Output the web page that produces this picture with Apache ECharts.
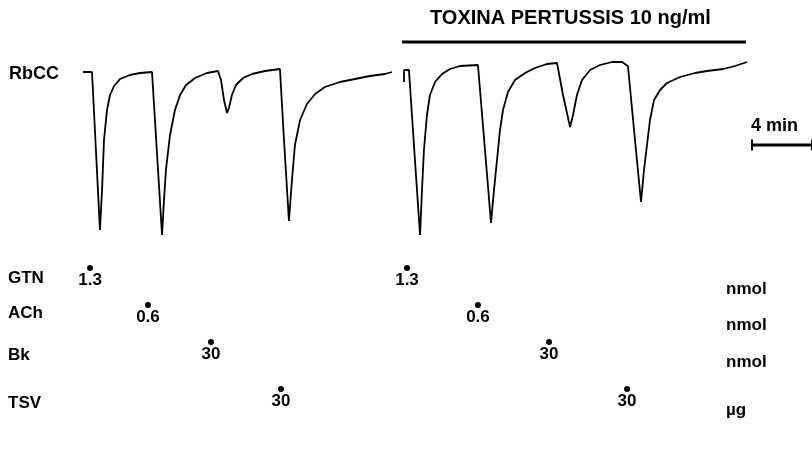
<!DOCTYPE html>
<html>
<head>
<meta charset="utf-8">
<script src="https://cdn.jsdelivr.net/npm/echarts@6/dist/echarts.min.js"></script>
<style>
  html, body { margin: 0; background: #fff; }
  #main { width: 812px; height: 450px; }
</style>
</head>
<body>
<div id="main"></div>
<script>
// RbCC tension trace, time in min from start, tension in arbitrary units (0 = resting tone, negative = relaxation)
var controlTime = [0, 0.6, 1.13, 1.27, 1.4, 1.6, 1.8, 2.07, 2.47, 3.13, 3.8, 4.6, 5.27, 5.4, 5.53, 5.8, 6.13, 6.47, 6.87, 7.47, 8.27, 9.0,
  9.2, 9.4, 9.6, 9.73, 9.93, 10.2, 10.67, 11.27, 12.13, 13.13, 13.4, 13.73, 13.93, 14.13, 14.47, 14.93, 15.47, 16.13, 17.13, 18.13, 19.13, 20.13, 20.6];
var controlTension = [-2, -2, -160, -120, -70, -40, -25, -16, -9, -5, -3, -2, -165, -130, -100, -65, -40, -25, -15, -8, -3, -1,
  -10, -30, -43, -38, -25, -15, -8, -4, -1, 1, -70, -151, -110, -75, -50, -34, -24, -17, -12, -9, -6, -4, -2];

var toxinTime = [21.4, 21.4, 21.73, 22.13, 22.47, 22.6, 22.73, 22.93, 23.13, 23.47, 23.93, 24.47, 25.13, 26.33, 26.8, 27.2, 27.4, 27.6, 27.8, 28.0,
  28.33, 28.8, 29.47, 30.13, 30.93, 31.6, 32.0, 32.47, 32.67, 32.93, 33.27, 33.8, 34.47, 35.27, 35.93, 36.33, 36.8, 37.2, 37.4, 37.6, 37.8,
  38.07, 38.47, 38.93, 39.8, 40.8, 41.6, 42.67, 43.47, 44.27];
var toxinTension = [-12, 0, 0, -90, -165, -120, -80, -45, -25, -12, -4, 1, 4, 5, -80, -153, -120, -90, -60, -40,
  -22, -10, -3, 2, 6, 7, -25, -57, -45, -25, -10, 0, 5, 8, 8, 4, -70, -132, -100, -75, -50,
  -30, -20, -13, -7, -3, -1, 1, 4, 8];

// pertussis toxin exposure (min)
var toxinPeriod = [21.27, 44.2];
var scaleBar = [44.6, 48.6]; // 4 min

// drug additions: time (min) and dose labels
var drugs = ['GTN', 'ACh', 'Bk', 'TSV'];
var units = ['nmol', 'nmol', 'nmol', 'µg'];
var gtnTimes = [0.47, 21.6];
var gtnDoses = ['1.3', '1.3'];
var achTimes = [4.33, 26.33];
var achDoses = ['0.6', '0.6'];
var bkTimes = [8.53, 31.07];
var bkDoses = ['30', '30'];
var tsvTimes = [13.2, 36.27];
var tsvDoses = ['30', '30'];

var FONT = '"Liberation Sans", Arial, sans-serif';
var rowLevel = [-198, -235, -272, -319];   // vertical slot of each drug row
var nameY = [280, 315, 357, 405];
var unitY = [291, 327, 364, 412];

function pairs(xs, ys) {
  return xs.map(function (x, i) { return [x, ys[i]]; });
}

function doseSeries(times, doses, level) {
  return {
    type: 'scatter',
    symbol: 'circle',
    symbolSize: 6,
    itemStyle: { color: '#000', opacity: 1 },
    label: {
      show: true,
      position: 'bottom',
      distance: 1,
      formatter: function (p) { return doses[p.dataIndex]; },
      color: '#000',
      fontFamily: FONT,
      fontWeight: 'bold',
      fontSize: 17
    },
    data: times.map(function (t) { return [t, level]; })
  };
}

var chart = echarts.init(document.getElementById('main'));

var graphics = [
  { type: 'text', left: 9, top: 65, style: { text: 'RbCC', font: 'bold 18px ' + FONT, fill: '#000' } },
  { type: 'text', left: 430, top: 8, style: { text: 'TOXINA PERTUSSIS 10 ng/ml', font: 'bold 20px ' + FONT, fill: '#000' } }
];
drugs.forEach(function (d, i) {
  graphics.push({ type: 'text', left: 8, top: nameY[i] - 10, style: { text: d, font: 'bold 17px ' + FONT, fill: '#000' } });
  graphics.push({ type: 'text', left: 726, top: unitY[i] - 10, style: { text: units[i], font: 'bold 17px ' + FONT, fill: '#000' } });
});

chart.setOption({
  animation: false,
  backgroundColor: '#fff',
  grid: { left: 0, right: 0, top: 0, bottom: 0 },
  xAxis: { type: 'value', min: -5.533, max: 48.6, show: false },
  yAxis: { type: 'value', min: -380, max: 70, show: false },
  graphic: graphics,
  series: [
    {
      type: 'line', showSymbol: false,
      lineStyle: { color: '#000', width: 1.8 },
      data: pairs(controlTime, controlTension)
    },
    {
      type: 'line', showSymbol: false,
      lineStyle: { color: '#000', width: 1.8 },
      data: pairs(toxinTime, toxinTension)
    },
    {
      type: 'line', showSymbol: false,
      lineStyle: { color: '#000', width: 3 },
      data: toxinPeriod.map(function (t) { return [t, 28]; })
    },
    {
      type: 'line',
      symbol: 'rect', symbolSize: [2, 11], showSymbol: true,
      itemStyle: { color: '#000' },
      lineStyle: { color: '#000', width: 3 },
      label: {
        show: true, position: 'top', align: 'left', distance: 4, offset: [-1, 0],
        formatter: function (p) { return p.dataIndex === 0 ? '4 min' : ''; },
        color: '#000', fontFamily: FONT, fontWeight: 'bold', fontSize: 18
      },
      data: scaleBar.map(function (t) { return [t, -75]; })
    },
    doseSeries(gtnTimes, gtnDoses, rowLevel[0]),
    doseSeries(achTimes, achDoses, rowLevel[1]),
    doseSeries(bkTimes, bkDoses, rowLevel[2]),
    doseSeries(tsvTimes, tsvDoses, rowLevel[3])
  ]
});
</script>
</body>
</html>
